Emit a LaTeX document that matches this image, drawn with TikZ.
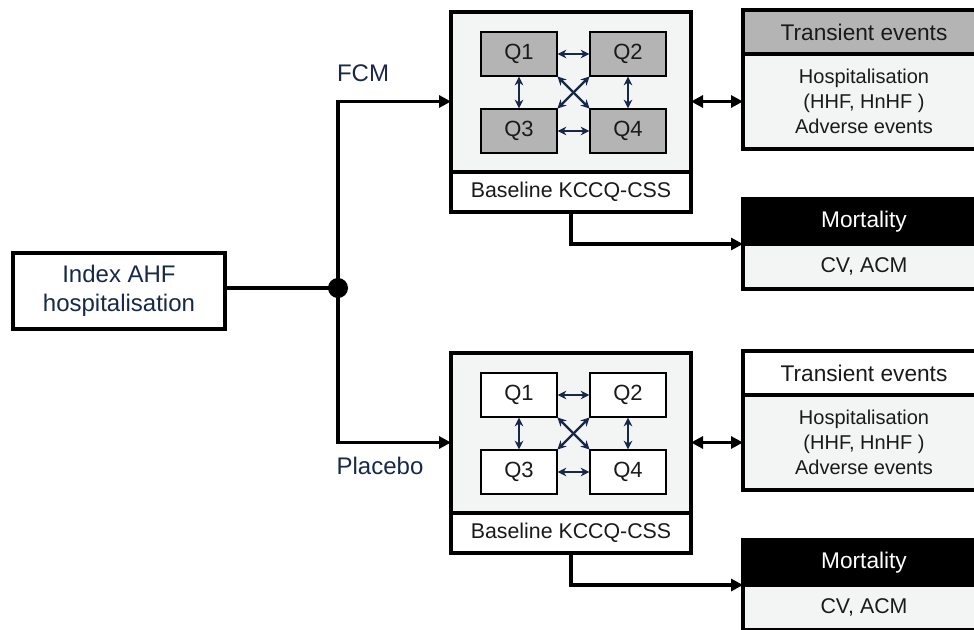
\documentclass[tikz,border=0pt]{standalone}
\usepackage{fontspec}
\setmainfont{Liberation Sans}
\usetikzlibrary{arrows.meta,calc}
\definecolor{navy}{HTML}{17284A}
\definecolor{panel}{HTML}{F3F5F5}
\definecolor{qgray}{HTML}{B4B4B4}
\definecolor{ink}{HTML}{1A1A1A}
\begin{document}
\begin{tikzpicture}[x=0.75pt,y=-0.75pt,
  rbox/.style={draw=black, inner sep=0pt, outer sep=0pt, anchor=north west, align=center, text=ink},
  sz/.style 2 args={minimum width={#1*0.75pt}, minimum height={#2*0.75pt}},
  thick box/.style={rbox, line width=2.5pt},
  qbox/.style={rbox, line width=1.6pt, sz={76}{44}, font=\fontsize{16.5}{19}\selectfont},
  conn/.style={draw=black, line width=2.3pt},
  bigtip/.tip={Triangle[length=9pt,width=9pt]},
  qarr/.style={draw=navy, line width=1.8pt, {Stealth[length=6.5pt,width=6.5pt]}-{Stealth[length=6.5pt,width=6.5pt]}, shorten <=0.5pt, shorten >=0.5pt},
  lbl/.style={text=navy, font=\fontsize{18}{22}\selectfont, inner sep=0pt}
]
\useasboundingbox (0,0) rectangle (974,629);
\clip (0,0) rectangle (974,629);

% index node and branch point
\node[thick box, sz={212}{76}, text=navy, font=\fontsize{18}{22}\selectfont] (idx) at (13,253) {Index AHF\\hospitalisation};
\node[circle, fill=black, minimum size={20*0.75pt}, inner sep=0pt] (dot) at (338,288) {};

\foreach \s/\dy/\qf in {A/0/qgray,B/341/white}{
  \node[thick box, fill=panel, sz={240}{161}] (out\s) at (451,{12+\dy}) {};
  \node[thick box, fill=white, sz={240}{40}, font=\fontsize{16}{19}\selectfont] (base\s) at (451,{172+\dy}) {Baseline KCCQ-CSS};
  \node[qbox, fill=\qf] (Q1\s) at (481,{32+\dy}) {Q1};
  \node[qbox, fill=\qf] (Q2\s) at (590,{32+\dy}) {Q2};
  \node[qbox, fill=\qf] (Q3\s) at (481,{109+\dy}) {Q3};
  \node[qbox, fill=\qf] (Q4\s) at (590,{109+\dy}) {Q4};
  \draw[qarr] (Q1\s.east) -- (Q2\s.west);
  \draw[qarr] (Q3\s.east) -- (Q4\s.west);
  \draw[qarr] (Q1\s.south) -- (Q3\s.north);
  \draw[qarr] (Q2\s.south) -- (Q4\s.north);
  \draw[qarr] (Q1\s.south east) -- (Q4\s.north west);
  \draw[qarr] (Q2\s.south west) -- (Q3\s.north east);
  % transient events
  \node[thick box, fill=\qf, sz={242}{44}, font=\fontsize{17}{20}\selectfont] (transH\s) at (743,{10+\dy}) {Transient events};
  \node[thick box, fill=panel, sz={242}{95}, font=\fontsize{15}{19}\selectfont] (transB\s) at (743,{54+\dy}) {Hospitalisation\\(HHF, HnHF )\\Adverse events};
  % mortality
  \node[thick box, fill=black, text=white, sz={242}{45}, font=\fontsize{17}{20}\selectfont] (mortH\s) at (743,{199+\dy}) {Mortality};
  \node[thick box, fill=panel, sz={242}{45}, font=\fontsize{16}{19}\selectfont] (mortB\s) at (743,{244+\dy}) {CV, ACM};
  % connectors
  \draw[conn, bigtip-bigtip] (transB\s.west -| out\s.east) -- (transB\s.west);
  \draw[conn, -bigtip] (base\s.south) |- (mortB\s.north west);
  \draw[conn, -bigtip] (dot.center) |- (transB\s.west -| out\s.west);
}

\draw[conn] (idx.east |- dot.center) -- (dot.center);
\node[lbl] (fcm) at (363,73) {FCM};
\node[lbl] (plc) at (380,466) {Placebo};
\end{tikzpicture}
\end{document}
